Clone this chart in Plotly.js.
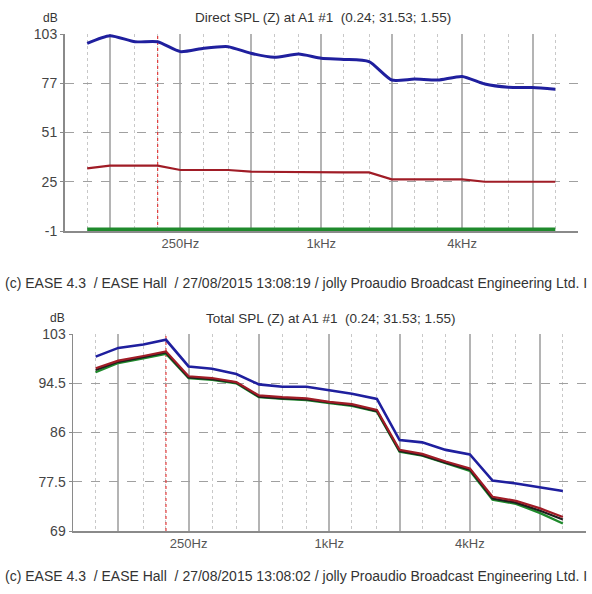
<!DOCTYPE html>
<html>
<head>
<meta charset="utf-8">
<script src="https://cdn.plot.ly/plotly-3.0.1.min.js"></script>
<style>html,body{margin:0;padding:0;background:#fff;overflow:hidden}#chart{width:592px;height:594px}</style>
</head>
<body>
<div id="chart"></div>
<script>
// ---- data ----
const freqs = [100,125,160,200,250,315,400,500,630,800,1000,1250,1600,2000,2500,3150,4000,5000,6300,8000,10000];
const octaveTicks = [125,250,500,1000,2000,4000,8000];
const octaveLabels = ['', '250Hz', '', '1kHz', '', '4kHz', ''];
const thirdOctaveTicks = [100,160,200,315,400,630,800,1250,1600,2500,3150,5000,6300,10000];
const markerFreq = 200;

const directTitle = 'Direct SPL (Z) at A1 #1  (0.24; 31.53; 1.55)';
const totalTitle = 'Total SPL (Z) at A1 #1  (0.24; 31.53; 1.55)';
const footerDirect = '(c) EASE 4.3  / EASE Hall  / 27/08/2015 13:08:19 / jolly Proaudio Broadcast Engineering Ltd. I';
const footerTotal = '(c) EASE 4.3  / EASE Hall  / 27/08/2015 13:08:02 / jolly Proaudio Broadcast Engineering Ltd. I';

const directTicks = [-1, 25, 51, 77, 103];
const directTickText = ['-1', '25', '51', '77', '103'];
const totalTicks = [69, 77.5, 86, 94.5, 103];
const totalTickText = ['69', '77.5', '86', '94.5', '103'];

const directBlue = [98.1,102.1,98.9,98.9,93.7,95.5,96.3,92.8,90.7,92.4,90.2,89.6,88.4,78.7,79.2,78.7,80.6,76.6,74.9,74.7,73.8];
const directRed = [32.1,33.5,33.5,33.5,31.2,31.2,31.2,30.3,30.3,30.3,30.0,30.0,29.9,26.3,26.3,26.3,26.3,25.0,25.0,25.0,25.0];
const directGreen = [-0.4,-0.4,-0.4,-0.4,-0.4,-0.4,-0.4,-0.4,-0.4,-0.4,-0.4,-0.4,-0.4,-0.4,-0.4,-0.4,-0.4,-0.4,-0.4,-0.4,-0.4];

const totalBlue = [99.1,100.6,101.2,102.0,97.4,97.0,96.1,94.3,93.9,93.9,93.3,92.7,91.8,84.7,84.3,83.0,82.2,77.7,77.2,76.5,75.9];
const totalRed = [97.1,98.4,99.2,100.0,95.7,95.4,94.7,92.4,92.1,91.9,91.3,90.9,89.9,83.0,82.3,81.0,79.8,74.9,74.2,72.9,71.4];
const totalBlack = [96.8,98.2,99.0,99.8,95.5,95.2,94.6,92.2,91.9,91.7,91.2,90.7,89.7,82.8,82.1,80.8,79.6,74.6,73.9,72.5,71.0];
const totalGreen = [96.4,98.0,98.8,99.6,95.4,95.1,94.5,92.1,91.8,91.6,91.1,90.6,89.6,82.7,82.0,80.7,79.4,74.4,73.7,72.1,70.3];

// ---- styles ----
const W = 592, H = 594;
const cBlue = '#1f1f9e', cRed = '#a01c26', cGreen = '#1f8a2c', cBlack = '#1e1e1e';
const fontFam = 'Liberation Sans, Arial, sans-serif';

function line(x, y, color, width, xa, ya, shape) {
  return {x: x, y: y, xaxis: xa, yaxis: ya, type: 'scatter', mode: 'lines',
    line: {color: color, width: width, shape: shape || 'linear', smoothing: 0.6}, hoverinfo: 'skip'};
}
const data = [
  line([markerFreq, markerFreq], [directTicks[0], directTicks[directTicks.length-1]], '#e03a3a', 1.2, 'x', 'y'),
  line(freqs, directGreen, cGreen, 4.5, 'x', 'y'),
  line(freqs, directRed, cRed, 2.2, 'x', 'y'),
  line(freqs, directBlue, cBlue, 3, 'x', 'y', 'spline'),
  line([markerFreq, markerFreq], [totalTicks[0], totalTicks[totalTicks.length-1]], '#e03a3a', 1.2, 'x2', 'y2'),
  line(freqs, totalGreen, cGreen, 2.4, 'x2', 'y2'),
  line(freqs, totalBlack, cBlack, 2.2, 'x2', 'y2'),
  line(freqs, totalRed, cRed, 2.2, 'x2', 'y2'),
  line(freqs, totalBlue, cBlue, 2.6, 'x2', 'y2')
];
data[0].line.dash = 'dot';
data[4].line.dash = 'dot';

function xAxis(domain, anchor) {
  return {
    type: 'log', domain: domain, anchor: anchor,
    range: [Math.log10(80), Math.log10(12500)],
    tickmode: 'array', tickvals: octaveTicks, ticktext: octaveLabels,
    showgrid: true, gridcolor: '#b4b4b4', gridwidth: 2,
    minor: {tickmode: 'array', tickvals: thirdOctaveTicks, showgrid: true, gridcolor: '#c8c8c8', griddash: 'dot', gridwidth: 1},
    showline: true, linecolor: '#8a8a8a', linewidth: 1.5,
    ticks: '', zeroline: false, fixedrange: true,
    tickfont: {family: fontFam, size: 13, color: '#555'}
  };
}
function yAxis(domain, anchor, ticks, labels) {
  return {
    domain: domain, anchor: anchor,
    range: [ticks[0], ticks[ticks.length-1]],
    tickmode: 'array', tickvals: ticks, ticktext: labels,
    showgrid: true, gridcolor: '#a0a0a0', griddash: 'dash', gridwidth: 1,
    showline: true, linecolor: '#8a8a8a', linewidth: 1.5,
    ticks: 'outside', ticklen: 3, tickcolor: '#8a8a8a',
    zeroline: false, fixedrange: true,
    tickfont: {family: fontFam, size: 14, color: '#444'}
  };
}

function ann(text, px, py, anchor, size) {
  return {text: text, xref: 'paper', yref: 'paper', x: px / W, y: 1 - py / H,
    xanchor: anchor, yanchor: 'middle', showarrow: false,
    font: {family: fontFam, size: size, color: '#333'}};
}

const layout = {
  width: W, height: H,
  margin: {l: 0, r: 0, t: 0, b: 0},
  paper_bgcolor: '#fff', plot_bgcolor: '#fff',
  showlegend: false,
  xaxis: xAxis([64.5 / W, 578 / W], 'y'),
  yaxis: yAxis([1 - 231 / H, 1 - 34 / H], 'x', directTicks, directTickText),
  xaxis2: xAxis([73 / W, 585.5 / W], 'y2'),
  yaxis2: yAxis([1 - 531 / H, 1 - 334 / H], 'x2', totalTicks, totalTickText),
  annotations: [
    ann(directTitle, 323, 17, 'center', 13.5),
    ann('dB', 50, 18, 'center', 12),
    ann(footerDirect, 3, 283, 'left', 14),
    ann(totalTitle, 330, 318, 'center', 13.5),
    ann('dB', 57, 318, 'center', 12),
    ann(footerTotal, 3, 576, 'left', 14)
  ]
};

Plotly.newPlot('chart', data, layout, {staticPlot: true, displayModeBar: false});
</script>
</body>
</html>
